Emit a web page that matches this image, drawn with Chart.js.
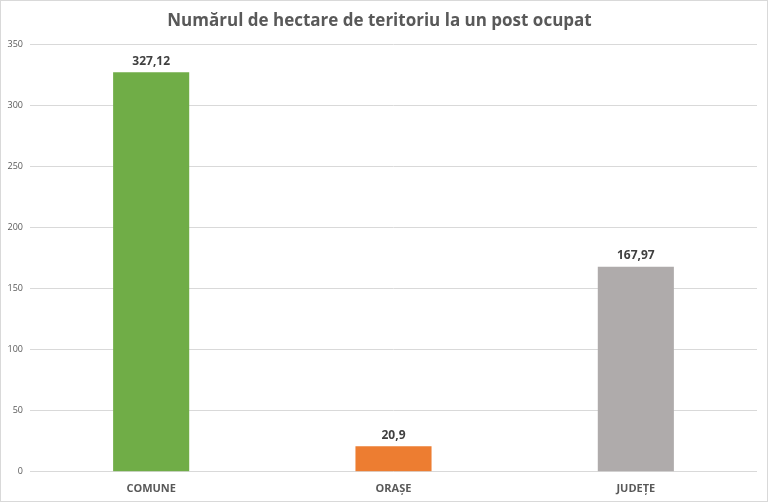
<!DOCTYPE html>
<html>
<head>
<meta charset="utf-8">
<script src="https://cdn.jsdelivr.net/npm/chart.js@4/dist/chart.umd.min.js"></script>
<style>
  html, body { margin: 0; padding: 0; background: #fff; }
  #wrap { position: relative; width: 768px; height: 502px; box-sizing: border-box; border: 1px solid #d9d9d9; }
</style>
</head>
<body>
<div id="wrap"><canvas id="chart"></canvas></div>
<script>
const categories = ["COMUNE", "ORAȘE", "JUDEȚE"];
const hectares = [327.12, 20.9, 167.97];
const barColors = ["#70ad47", "#ed7d31", "#afabab"];
const yTicks = [0, 50, 100, 150, 200, 250, 300, 350];

// writes the value above each bar, with a decimal comma
const valueLabels = {
    id: "valueLabels",
    afterDatasetsDraw(chart) {
        const ctx = chart.ctx;
        const meta = chart.getDatasetMeta(0);
        ctx.save();
        ctx.font = "bold 12px 'Open Sans', sans-serif";
        ctx.fillStyle = "#404040";
        ctx.textAlign = "center";
        ctx.textBaseline = "bottom";
        meta.data.forEach((bar, i) => {
            const txt = String(hectares[i]).replace(".", ",");
            ctx.fillText(txt, bar.x, bar.y - 5);
        });
        ctx.restore();
    }
};

new Chart("chart", {
    type: "bar",
    data: {
        labels: categories,
        datasets: [{
            data: hectares,
            backgroundColor: barColors,
            barPercentage: 0.314,
            categoryPercentage: 1
        }]
    },
    options: {
        responsive: true,
        maintainAspectRatio: false,
        animation: false,
        layout: { padding: { left: 1, right: 10, top: 0, bottom: 4 } },
        plugins: {
            legend: { display: false },
            tooltip: { enabled: false },
            title: {
                display: true,
                text: "Numărul de hectare de teritoriu la un post ocupat",
                color: "#595959",
                font: { family: "'Open Sans', sans-serif", size: 17, weight: "bold" },
                padding: { top: 10, bottom: 13 }
            }
        },
        scales: {
            x: {
                grid: { display: false },
                border: { display: false },
                ticks: {
                    color: "#595959",
                    font: { family: "'Open Sans', sans-serif", size: 11, weight: "bold" },
                    padding: 2
                }
            },
            y: {
                min: 0,
                max: 350,
                afterBuildTicks(scale) {
                    scale.ticks = yTicks.map(v => ({ value: v }));
                },
                afterFit(scale) { scale.width = 28; },
                grid: { color: "#d9d9d9", drawTicks: false },
                border: { display: false },
                ticks: {
                    color: "#595959",
                    font: { family: "'Open Sans', sans-serif", size: 9 },
                    padding: 7
                }
            }
        }
    },
    plugins: [valueLabels]
});
</script>
</body>
</html>
